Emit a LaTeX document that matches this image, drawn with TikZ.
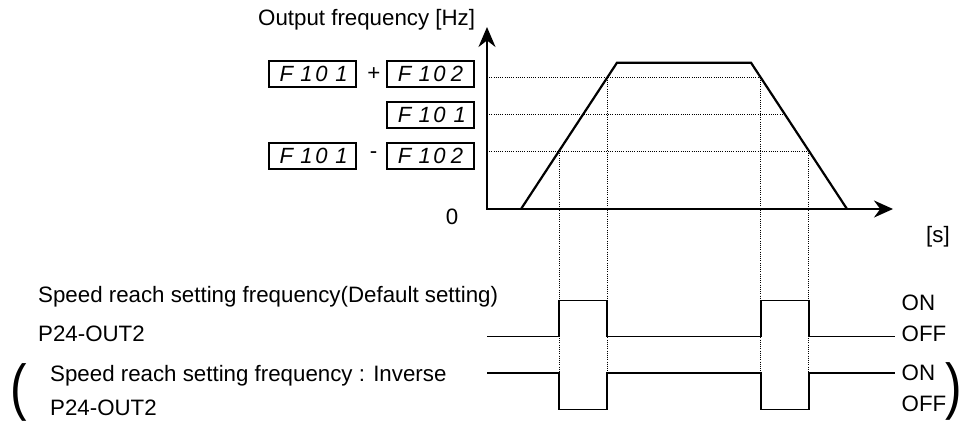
\documentclass[tikz,border=0pt]{standalone}
\usepackage{fontspec}
\setmainfont{Liberation Sans}
\usetikzlibrary{arrows.meta,calc}
\newcommand\dcell[2][c]{\makebox[17.5pt][#1]{#2}}
\begin{document}
\begin{tikzpicture}[x=1pt,y=-1pt,
  txt/.style={font=\fontsize{22.3}{26}\selectfont, inner sep=0pt},
  lbl/.style={txt, anchor=base west},
  disp/.style={draw, line width=2pt, minimum width=86.7pt, minimum height=26.3pt, inner sep=0pt, font=\fontsize{22}{22}\selectfont\itshape},
  axis/.style={line width=2pt},
  ramp/.style={line width=2.2pt},
  pulse/.style={line width=1.5pt},
  dotl/.style={line width=1pt, dash pattern=on 1pt off 1.2pt},
  paren/.style={font=\fontsize{62}{62}\selectfont, inner sep=0pt}]
\useasboundingbox (0,0) rectangle (963,421);
% axes
\coordinate (O) at (487,209);
\coordinate (Ytip) at (487,27);
\coordinate (Xtip) at (893,209);
% ramp corners
\coordinate (A) at (521,209);
\coordinate (B) at (617,62.7);
\coordinate (C) at (751,62.7);
\coordinate (D) at (847,209);
% intersection points of levels with ramps
\coordinate (L1) at ($(A)!0.3964!(B)$);
\coordinate (L2) at ($(A)!0.6473!(B)$);
\coordinate (L3) at ($(A)!0.8975!(B)$);
\coordinate (R1) at ($(D)!0.3964!(C)$);
\coordinate (R2) at ($(D)!0.6473!(C)$);
\coordinate (R3) at ($(D)!0.8975!(C)$);
% signal levels
\coordinate (hiA) at (0,300.7);
\coordinate (loA) at (0,336.5);
\coordinate (hiB) at (0,373);
\coordinate (loB) at (0,409.3);
% dotted guides
\draw[dotl] (O |- L3) -- (R3);
\draw[dotl] (O |- L2) -- (R2);
\draw[dotl] (O |- L1) -- (R1);
\draw[dotl] (L1) -- (L1 |- hiB);
\draw[dotl] (L3) -- (L3 |- hiB);
\draw[dotl] (R3) -- (R3 |- hiB);
\draw[dotl] (R1) -- (R1 |- hiB);
% axes
\draw[axis,{Stealth[length=20pt,width=17pt]}-{Stealth[length=19pt,width=17pt]}] (Ytip) -- (O) -- (Xtip);
% ramp
\draw[ramp] (A) -- (B) -- (C) -- (D);
% pulses
\coordinate (sA) at (487,336.5);
\coordinate (eA) at (895,336.5);
\coordinate (sB) at (487,373);
\coordinate (eB) at (895,373);
\draw[pulse] (sA) -- (L1 |- loA) -- (L1 |- hiA) -- (L3 |- hiA) -- (L3 |- loA) -- (R3 |- loA) -- (R3 |- hiA) -- (R1 |- hiA) -- (R1 |- loA) -- (eA);
\draw[pulse] (sB) -- (L1 |- hiB) -- (L1 |- loB) -- (L3 |- loB) -- (L3 |- hiB) -- (R3 |- hiB) -- (R3 |- loB) -- (R1 |- loB) -- (R1 |- hiB) -- (eB);
% display boxes
\node[disp] (d1) at (312.7,74) {\dcell{F}\dcell[r]{1}\dcell{0}\dcell[r]{1}};
\node[disp] (d2) at (430.8,74) {\dcell{F}\dcell[r]{1}\dcell{0}\dcell{2}};
\node[disp] (d3) at (430.8,114.7) {\dcell{F}\dcell[r]{1}\dcell{0}\dcell[r]{1}};
\node[disp] (d4) at (312.7,155.8) {\dcell{F}\dcell[r]{1}\dcell{0}\dcell[r]{1}};
\node[disp] (d5) at (430.8,155.8) {\dcell{F}\dcell[r]{1}\dcell{0}\dcell{2}};
\node[txt] (plus) at (374,74) {+};
\node[txt] (minus) at (373.5,155.5) {-};
% labels
\node[lbl] (yl) at (258,25) {Output frequency [Hz]};
\node[txt] (zero) at (452,216.5) {0};
\node[txt] (sec) at (938,237) {[s]};
\node[lbl] (t1) at (38,302.5) {Speed reach setting frequency(Default setting)};
\node[lbl] (t2) at (38,341) {P24-OUT2};
\node[lbl] (t3) at (50,381.5) {Speed reach setting frequency : Inverse};
\node[lbl] (t4) at (50,415) {P24-OUT2};
\node[lbl] (on1) at (901.5,310) {ON};
\node[lbl] (off1) at (901.5,341.7) {OFF};
\node[lbl] (on2) at (901.5,380) {ON};
\node[lbl] (off2) at (901.5,411.7) {OFF};
\node[paren] (lp) at (19,392) {\scalebox{0.8}[1]{(}};
\node[paren] (rp) at (953.5,391) {\scalebox{0.8}[1]{)}};
\end{tikzpicture}
\end{document}
